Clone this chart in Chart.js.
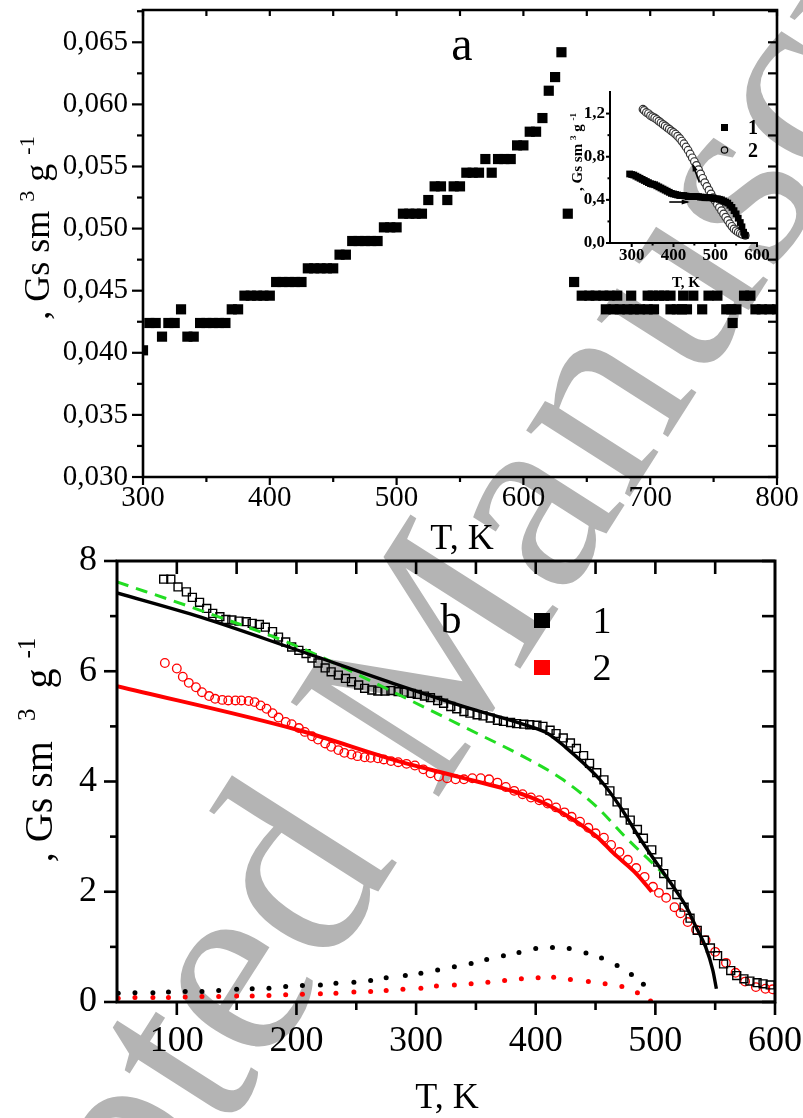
<!DOCTYPE html>
<html>
<head>
<meta charset="utf-8">
<script src="https://cdn.jsdelivr.net/npm/chart.js@4.4.1/dist/chart.umd.min.js"></script>
<style>
html, body { margin: 0; padding: 0; background: #fff; }
#page { position: relative; width: 803px; height: 1118px; overflow: hidden; }
#wm { position: absolute; left: 0; top: 0; }
.box { position: absolute; }
</style>
</head>
<body>
<div id="page">
<svg id="wm" width="803" height="1118">
  <text x="-145" y="1713" transform="rotate(-57.5 -145 1713)" font-family="Liberation Serif" font-size="268" fill="#b4b4b4">Accepted Manuscript</text>
</svg>
<div class="box" style="left:0;top:0;width:803px;height:560px"><canvas id="chartA"></canvas></div>
<div class="box" style="left:0;top:540px;width:803px;height:578px"><canvas id="chartB"></canvas></div>
<div class="box" style="left:540px;top:70px;width:250px;height:230px"><canvas id="chartInset"></canvas></div>
</div>
<script>
const SERIF = '"Liberation Serif", "Times New Roman", serif';

// (a) main panel: T, K and magnetisation
const tempA = [300, 305, 310, 315, 320, 325, 330, 335, 340, 345, 350, 355, 360, 365, 370, 375,
  380, 385, 390, 395, 400, 405, 410, 415, 420, 425, 430, 435, 440, 445, 450, 455, 460,
  465, 470, 475, 480, 485, 490, 495, 500, 505, 510, 515, 520, 525, 530, 535, 540, 545, 550,
  555, 560, 565, 570, 575, 580, 585, 590, 595, 600, 605, 610, 615, 620, 625, 630, 635, 640,
  646, 652, 657, 663, 668, 674, 685, 698, 702, 707, 711, 716, 726, 734, 746, 753, 774, 779,
  665, 671, 676, 682, 687, 692, 698, 703, 716, 721, 725, 729, 741, 760, 764, 768, 783, 788, 794, 800,
  765];
const magA = [0.0402, 0.0424, 0.0424, 0.0413, 0.0424, 0.0424, 0.0435, 0.0413, 0.0413, 0.0424, 0.0424, 0.0424, 0.0424, 0.0424, 0.0435, 0.0435,
  0.0446, 0.0446, 0.0446, 0.0446, 0.0446, 0.0457, 0.0457, 0.0457, 0.0457, 0.0457, 0.0468, 0.0468, 0.0468, 0.0468, 0.0468, 0.0479, 0.0479,
  0.0490, 0.0490, 0.0490, 0.0490, 0.0490, 0.0501, 0.0501, 0.0501, 0.0512, 0.0512, 0.0512, 0.0512, 0.0523, 0.0534, 0.0534, 0.0523, 0.0534, 0.0534,
  0.0545, 0.0545, 0.0545, 0.0556, 0.0545, 0.0556, 0.0556, 0.0556, 0.0567, 0.0567, 0.0578, 0.0578, 0.0589, 0.0611, 0.0622, 0.0642, 0.0512, 0.0457,
  0.0446, 0.0446, 0.0446, 0.0446, 0.0446, 0.0446, 0.0446, 0.0446, 0.0446, 0.0446, 0.0446, 0.0446, 0.0446, 0.0446, 0.0446, 0.0446, 0.0446, 0.0446,
  0.0435, 0.0435, 0.0435, 0.0435, 0.0435, 0.0435, 0.0435, 0.0435, 0.0435, 0.0435, 0.0435, 0.0435, 0.0435, 0.0435, 0.0435, 0.0435, 0.0435, 0.0435, 0.0435, 0.0435,
  0.0424];
const ticksXA = [300, 400, 500, 600, 700, 800];
const ticksYA = [0.030, 0.035, 0.040, 0.045, 0.050, 0.055, 0.060, 0.065];

// inset: 1 heating, 2 cooling
const heatT = [295, 300, 305, 310, 315, 320, 325, 330, 335, 340, 345, 350, 355, 360, 365, 370, 375, 380, 385, 390,
  395, 400, 405, 410, 415, 420, 425, 430, 435, 440, 445, 450, 455, 460, 465, 470, 475, 480, 485, 490,
  495, 500, 505, 510, 515, 520, 525, 530, 535, 540, 545, 550, 555, 560, 564, 568, 572];
const heatV = [0.64, 0.635, 0.63, 0.62, 0.61, 0.60, 0.59, 0.58, 0.57, 0.56, 0.55, 0.545, 0.54, 0.53, 0.52, 0.51, 0.50, 0.49, 0.48, 0.47,
  0.46, 0.455, 0.45, 0.445, 0.44, 0.44, 0.44, 0.435, 0.43, 0.43, 0.43, 0.43, 0.43, 0.43, 0.425, 0.425, 0.42, 0.42, 0.42, 0.42,
  0.415, 0.41, 0.41, 0.405, 0.40, 0.39, 0.38, 0.37, 0.35, 0.33, 0.30, 0.27, 0.23, 0.19, 0.15, 0.10, 0.07];
const coolT = [327, 330, 335, 340, 345, 350, 355, 360, 365, 370, 375, 380, 385, 390, 395, 400, 405, 410, 415, 420,
  425, 430, 435, 440, 445, 450, 455, 460, 465, 470, 475, 480, 485, 490, 495, 500, 505, 510, 515, 520,
  525, 530, 535, 540, 545, 550, 555, 560, 565, 572];
const coolV = [1.24, 1.23, 1.21, 1.20, 1.18, 1.17, 1.16, 1.145, 1.13, 1.115, 1.10, 1.085, 1.07, 1.055, 1.04, 1.025, 1.01, 0.99, 0.97, 0.945,
  0.92, 0.89, 0.86, 0.825, 0.79, 0.755, 0.72, 0.68, 0.64, 0.60, 0.56, 0.525, 0.49, 0.455, 0.42, 0.39, 0.36, 0.33, 0.30, 0.27,
  0.24, 0.21, 0.18, 0.155, 0.13, 0.115, 0.10, 0.09, 0.08, 0.07];
const ticksXI = [300, 400, 500, 600];
const ticksYI = [0, 0.4, 0.8, 1.2];

// (b) sample 1 (squares) and sample 2 (circles)
const t1 = [89, 95, 101, 108, 113, 119, 125, 130, 136, 141, 146, 152, 158, 163, 169, 174, 180, 185, 191, 196,
  202, 208, 213, 218, 224, 229, 235, 241, 246, 252, 257, 263, 268, 274, 279, 285, 290, 296, 301, 307,
  312, 318, 323, 329, 334, 340, 345, 351, 356, 362, 368, 373, 379, 384, 390, 395, 401, 406, 412, 417,
  423, 429, 434, 440, 445, 451, 457, 462, 468, 474, 479, 485, 490, 497, 502, 507, 513, 518, 524, 529,
  535, 541, 546, 552, 557, 563, 568, 574, 579, 585, 590, 596];
const m1 = [7.67, 7.67, 7.53, 7.44, 7.34, 7.25, 7.14, 7.05, 6.99, 6.94, 6.93, 6.91, 6.90, 6.87, 6.85, 6.80, 6.72, 6.62, 6.53, 6.44,
  6.38, 6.32, 6.24, 6.15, 6.06, 5.99, 5.93, 5.87, 5.81, 5.75, 5.69, 5.66, 5.64, 5.64, 5.65, 5.63, 5.62, 5.60, 5.58, 5.55,
  5.52, 5.47, 5.42, 5.36, 5.32, 5.27, 5.24, 5.21, 5.19, 5.15, 5.11, 5.09, 5.07, 5.05, 5.04, 5.03, 5.02, 5.00, 4.93, 4.87,
  4.79, 4.70, 4.60, 4.47, 4.33, 4.16, 4.03, 3.83, 3.63, 3.43, 3.30, 3.13, 2.97, 2.76, 2.54, 2.33, 2.13, 1.95, 1.72, 1.52,
  1.30, 1.12, 0.98, 0.84, 0.69, 0.57, 0.48, 0.42, 0.38, 0.35, 0.33, 0.31];
const t2 = [90, 100, 105, 110, 116, 121, 127, 132, 138, 143, 149, 154, 160, 165, 170, 175, 180, 185, 191, 196,
  202, 207, 213, 218, 224, 229, 235, 240, 246, 251, 257, 262, 268, 273, 279, 285, 292, 299, 306, 312,
  319, 326, 333, 340, 347, 354, 361, 368, 375, 382, 389, 396, 403, 410, 417, 424, 430, 437, 444, 450,
  457, 463, 470, 477, 484, 491, 498, 503, 509, 516, 521, 527, 534, 542, 550, 559, 567, 575, 584, 592, 598];
const m2 = [6.15, 6.05, 5.90, 5.79, 5.71, 5.62, 5.55, 5.50, 5.48, 5.47, 5.47, 5.47, 5.46, 5.44, 5.38, 5.32, 5.24, 5.16, 5.08, 5.04,
  4.97, 4.90, 4.82, 4.76, 4.69, 4.63, 4.57, 4.52, 4.49, 4.46, 4.44, 4.43, 4.42, 4.40, 4.37, 4.35, 4.32, 4.29, 4.22, 4.15,
  4.09, 4.06, 4.04, 4.04, 4.06, 4.06, 4.04, 3.98, 3.90, 3.83, 3.77, 3.71, 3.66, 3.60, 3.53, 3.44, 3.36, 3.27, 3.16, 3.06,
  2.98, 2.85, 2.72, 2.58, 2.43, 2.27, 2.09, 1.98, 1.89, 1.72, 1.61, 1.45, 1.31, 1.12, 0.91, 0.71, 0.53, 0.37, 0.27, 0.24, 0.23];

// (b) fitted curves
const fit1T = [50, 120, 200, 285, 340, 395, 410, 425, 440, 455, 470, 487, 501, 515, 526, 534, 542, 548, 551];
const fit1V = [7.42, 6.98, 6.39, 5.75, 5.36, 5.00, 4.87, 4.62, 4.33, 4.00, 3.56, 2.97, 2.52, 2.09, 1.72, 1.36, 1.00, 0.58, 0.24];
const fit2T = [50, 202, 285, 340, 395, 423, 451, 465, 484, 497];
const fit2V = [5.73, 4.93, 4.37, 4.06, 3.72, 3.42, 3.00, 2.70, 2.33, 2.00];
const fitGT = [50, 119, 202, 285, 340, 395, 423, 451, 476, 506, 512];
const fitGV = [7.62, 7.11, 6.44, 5.58, 4.99, 4.39, 4.03, 3.54, 2.97, 2.34, 2.20];

// (b) dotted difference curves
const dot1T = [51, 65, 80, 93, 107, 121, 135, 150, 163, 177, 191, 205, 220, 233, 248, 262, 275, 291, 304,
  318, 332, 346, 359, 373, 386, 400, 414, 428, 442, 455, 468, 480, 490];
const dot1V = [0.16, 0.17, 0.17, 0.18, 0.19, 0.19, 0.21, 0.23, 0.24, 0.25, 0.28, 0.30, 0.31, 0.34, 0.36, 0.39, 0.44, 0.48, 0.52,
  0.58, 0.64, 0.70, 0.77, 0.84, 0.90, 0.97, 0.99, 0.97, 0.89, 0.80, 0.66, 0.50, 0.32];
const dot2T = [51, 65, 80, 93, 107, 121, 135, 150, 163, 177, 191, 205, 220, 233, 248, 262, 275, 289, 304,
  317, 332, 346, 360, 374, 388, 402, 415, 429, 444, 458, 472, 485, 496];
const dot2V = [0.07, 0.08, 0.08, 0.08, 0.09, 0.10, 0.10, 0.11, 0.11, 0.12, 0.13, 0.14, 0.15, 0.16, 0.18, 0.19, 0.21, 0.23, 0.25,
  0.29, 0.31, 0.33, 0.36, 0.39, 0.42, 0.44, 0.45, 0.41, 0.37, 0.33, 0.28, 0.17, 0.02];
const ticksXB = [100, 200, 300, 400, 500, 600];
const ticksYB = [0, 2, 4, 6, 8];

function pts(xs, ys) {
  return xs.map((x, i) => ({ x: x, y: ys[i] }));
}

function range(a, b, step) {
  const out = [];
  for (let v = a; v <= b + 1e-9; v += step) out.push(+v.toFixed(6));
  return out;
}

// keep the plot area exactly where layout.padding puts it
function pin(size) {
  return s => {
    if (s.isHorizontal()) s.height = size; else s.width = size;
    s.paddingLeft = 0; s.paddingRight = 0; s.paddingTop = 0; s.paddingBottom = 0;
  };
}

// text with superscripts
function drawRich(ctx, parts, x, y, rot, size, weight) {
  ctx.save();
  ctx.translate(x, y);
  ctx.rotate(rot);
  ctx.fillStyle = '#000';
  ctx.textBaseline = 'alphabetic';
  const fontOf = p => weight + ' ' + (p.sup ? Math.round(size * 0.62) : size) + 'px ' + SERIF;
  const widths = parts.map(p => { ctx.font = fontOf(p); return ctx.measureText(p.t).width; });
  let cx = -widths.reduce((a, b) => a + b, 0) / 2;
  parts.forEach((p, i) => {
    ctx.font = fontOf(p);
    ctx.fillText(p.t, cx, p.sup ? -size * 0.42 : 0);
    cx += widths[i];
  });
  ctx.restore();
}

// axis frame, ticks and free texts
const framePlugin = {
  id: 'frame',
  afterDraw(chart, args, o) {
    const { ctx, chartArea: a, scales } = chart;
    const x = scales.x, y = scales.y;
    ctx.save();
    ctx.strokeStyle = '#000';
    ctx.lineWidth = o.lw;
    ctx.lineCap = 'square';
    ctx.beginPath();
    if (o.box) {
      ctx.rect(a.left, a.top, a.right - a.left, a.bottom - a.top);
    } else {
      ctx.moveTo(a.left, a.top);
      ctx.lineTo(a.left, a.bottom);
      ctx.lineTo(a.right, a.bottom);
    }
    ctx.stroke();
    ctx.lineCap = 'butt';
    ctx.lineWidth = o.tickW || o.lw;
    o.ticks.forEach(t => {
      t.values.forEach(v => {
        ctx.beginPath();
        if (t.side === 'bottom' || t.side === 'top') {
          const px = x.getPixelForValue(v);
          const y0 = t.side === 'bottom' ? a.bottom : a.top;
          const y1 = t.side === 'bottom' ? a.bottom + t.len : a.top - t.len;
          ctx.moveTo(px, y0); ctx.lineTo(px, y1);
        } else {
          const py = y.getPixelForValue(v);
          const x0 = t.side === 'left' ? a.left : a.right;
          const x1 = t.side === 'left' ? a.left - t.len : a.right + t.len;
          ctx.moveTo(x0, py); ctx.lineTo(x1, py);
        }
        ctx.stroke();
      });
    });
    (o.texts || []).forEach(t => {
      drawRich(ctx, t.parts, t.x, t.y, t.rot || 0, t.size, t.weight || 'normal');
    });
    if (o.extra) o.extra(chart);
    ctx.restore();
  }
};

const titleParts = [{ t: ', Gs sm ' }, { t: '3', sup: true }, { t: ' g ' }, { t: '-1', sup: true }];
const titlePartsB = [{ t: ', Gs sm  ' }, { t: '3', sup: true }, { t: '  g ' }, { t: '-1', sup: true }];
const baseOpts = {
  responsive: true,
  maintainAspectRatio: false,
  animation: false,
  events: []
};

// ---------- panel (a) ----------
new Chart(document.getElementById('chartA'), {
  type: 'scatter',
  data: {
    datasets: [{
      data: pts(tempA, magA),
      pointStyle: 'rect',
      pointRadius: 7.2,
      pointBorderWidth: 0,
      backgroundColor: '#000',
      borderColor: '#000'
    }]
  },
  options: Object.assign({}, baseOpts, {
    layout: { padding: { top: 10, right: 26, left: 0, bottom: 0 } },
    plugins: {
      legend: { display: false },
      tooltip: { enabled: false },
      frame: {
        lw: 2.6, tickW: 2.2, box: true,
        ticks: [
          { side: 'left', values: ticksYA, len: 11 },
          { side: 'left', values: range(0.0325, 0.0675, 0.005), len: 6 },
          { side: 'right', values: range(0.030, 0.0675, 0.0025), len: -9 },
          { side: 'bottom', values: ticksXA, len: 8 },
          { side: 'bottom', values: range(350, 750, 100), len: 5 },
          { side: 'top', values: range(300, 800, 50), len: -6 }
        ],
        texts: [
          { parts: [{ t: 'a' }], x: 462, y: 60, size: 48 },
          { parts: [{ t: 'T, K' }], x: 462, y: 549, size: 36 },
          { parts: titleParts, x: 49, y: 228, rot: -Math.PI / 2, size: 36 }
        ]
      }
    },
    scales: {
      x: {
        type: 'linear', min: 300, max: 800,
        afterBuildTicks: s => { s.ticks = ticksXA.map(v => ({ value: v })); },
        afterFit: pin(83),
        ticks: { font: { family: SERIF, size: 29 }, color: '#000', padding: 4, maxRotation: 0 },
        grid: { display: false, drawTicks: false },
        border: { display: false }
      },
      y: {
        type: 'linear', min: 0.030, max: 0.0676,
        afterBuildTicks: s => { s.ticks = ticksYA.map(v => ({ value: v })); },
        afterFit: pin(143),
        ticks: {
          font: { family: SERIF, size: 29 }, color: '#000', padding: 15,
          callback: v => v.toFixed(3).replace('.', ',')
        },
        grid: { display: false, drawTicks: false },
        border: { display: false }
      }
    }
  }),
  plugins: [framePlugin]
});

// ---------- inset ----------
function arrow(ctx, xs, ys, x0, y0, x1, y1) {
  const p0x = xs.getPixelForValue(x0), p0y = ys.getPixelForValue(y0);
  const p1x = xs.getPixelForValue(x1), p1y = ys.getPixelForValue(y1);
  const ang = Math.atan2(p1y - p0y, p1x - p0x);
  ctx.strokeStyle = '#000';
  ctx.fillStyle = '#000';
  ctx.lineWidth = 1.6;
  ctx.beginPath();
  ctx.moveTo(p0x, p0y);
  ctx.lineTo(p1x, p1y);
  ctx.stroke();
  ctx.beginPath();
  ctx.moveTo(p1x + 2 * Math.cos(ang), p1y + 2 * Math.sin(ang));
  ctx.lineTo(p1x - 6 * Math.cos(ang) + 2.6 * Math.sin(ang), p1y - 6 * Math.sin(ang) - 2.6 * Math.cos(ang));
  ctx.lineTo(p1x - 6 * Math.cos(ang) - 2.6 * Math.sin(ang), p1y - 6 * Math.sin(ang) + 2.6 * Math.cos(ang));
  ctx.closePath();
  ctx.fill();
}

new Chart(document.getElementById('chartInset'), {
  type: 'scatter',
  data: {
    datasets: [
      {
        data: pts(heatT, heatV),
        pointStyle: 'rect', pointRadius: 4.8, pointBorderWidth: 0,
        backgroundColor: '#000', borderColor: '#000'
      },
      {
        data: pts(coolT, coolV),
        pointStyle: 'circle', pointRadius: 3.8, pointBorderWidth: 1.2,
        backgroundColor: '#fff', borderColor: '#333'
      }
    ]
  },
  options: Object.assign({}, baseOpts, {
    layout: { padding: { top: 22, right: 33, left: 0, bottom: 0 } },
    plugins: {
      legend: { display: false },
      tooltip: { enabled: false },
      frame: {
        lw: 2, box: false,
        ticks: [
          { side: 'left', values: ticksYI, len: 4 },
          { side: 'left', values: [0.2, 0.6, 1.0], len: 2.5 },
          { side: 'bottom', values: ticksXI, len: 4 },
          { side: 'bottom', values: [350, 450, 550], len: 2.5 }
        ],
        texts: [
          { parts: [{ t: 'T, K' }], x: 146, y: 217, size: 15, weight: 'bold' },
          { parts: titleParts, x: 42, y: 82, rot: -Math.PI / 2, size: 15, weight: 'bold' },
          { parts: [{ t: '1' }], x: 213, y: 64, size: 20, weight: 'bold' },
          { parts: [{ t: '2' }], x: 213, y: 87, size: 20, weight: 'bold' }
        ],
        extra: chart => {
          const ctx = chart.ctx;
          ctx.fillStyle = '#000';
          ctx.fillRect(181, 54, 7, 7);
          ctx.beginPath();
          ctx.strokeStyle = '#000';
          ctx.lineWidth = 1.2;
          ctx.arc(184.5, 80, 3.2, 0, Math.PI * 2);
          ctx.stroke();
          arrow(ctx, chart.scales.x, chart.scales.y, 390, 0.38, 434, 0.38);
          arrow(ctx, chart.scales.x, chart.scales.y, 462, 0.56, 447, 0.72);
        }
      }
    },
    scales: {
      x: {
        type: 'linear', min: 248, max: 600,
        afterBuildTicks: s => { s.ticks = ticksXI.map(v => ({ value: v })); },
        afterFit: pin(57),
        ticks: { font: { family: SERIF, size: 17, weight: 'bold' }, color: '#000', padding: 2, maxRotation: 0 },
        grid: { display: false, drawTicks: false },
        border: { display: false }
      },
      y: {
        type: 'linear', min: 0, max: 1.4,
        afterBuildTicks: s => { s.ticks = ticksYI.map(v => ({ value: v })); },
        afterFit: pin(70),
        ticks: {
          font: { family: SERIF, size: 17, weight: 'bold' }, color: '#000', padding: 5,
          callback: v => v.toFixed(1).replace('.', ',')
        },
        grid: { display: false, drawTicks: false },
        border: { display: false }
      }
    }
  }),
  plugins: [framePlugin]
});

// ---------- panel (b) ----------
const RED = '#ff0000';
const GREEN = '#22dd22';
new Chart(document.getElementById('chartB'), {
  type: 'scatter',
  data: {
    datasets: [
      {
        label: '1', data: pts(t1, m1), order: 3,
        pointStyle: 'rect', pointRadius: 5.6, pointBorderWidth: 1.4,
        backgroundColor: 'rgba(0,0,0,0)', borderColor: '#000'
      },
      {
        label: '2', data: pts(t2, m2), order: 4,
        pointStyle: 'circle', pointRadius: 4.3, pointBorderWidth: 1.3,
        backgroundColor: 'rgba(0,0,0,0)', borderColor: RED
      },
      {
        data: pts(fit1T, fit1V), order: 1, showLine: true, pointRadius: 0,
        borderColor: '#000', borderWidth: 3.4, cubicInterpolationMode: 'monotone'
      },
      {
        data: pts(fit2T, fit2V), order: 2, showLine: true, pointRadius: 0,
        borderColor: RED, borderWidth: 4, cubicInterpolationMode: 'monotone'
      },
      {
        data: pts(fitGT, fitGV), order: 2, showLine: true, pointRadius: 0,
        borderColor: GREEN, borderWidth: 3, borderDash: [12, 8], cubicInterpolationMode: 'monotone'
      },
      {
        data: pts(dot1T, dot1V), order: 5,
        pointStyle: 'circle', pointRadius: 2.5, pointBorderWidth: 0,
        backgroundColor: '#000', borderColor: '#000'
      },
      {
        data: pts(dot2T, dot2V), order: 5,
        pointStyle: 'circle', pointRadius: 2.5, pointBorderWidth: 0,
        backgroundColor: RED, borderColor: RED
      }
    ]
  },
  options: Object.assign({}, baseOpts, {
    layout: { padding: { top: 21, right: 28, left: 0, bottom: 0 } },
    plugins: {
      legend: { display: false },
      tooltip: { enabled: false },
      frame: {
        lw: 3, tickW: 2.6, box: true,
        ticks: [
          { side: 'left', values: ticksYB, len: 13 },
          { side: 'left', values: [1, 3, 5, 7], len: 7 },
          { side: 'right', values: range(0, 8, 1), len: -13 },
          { side: 'bottom', values: ticksXB, len: 13 },
          { side: 'bottom', values: range(150, 550, 100), len: 8 },
          { side: 'top', values: range(100, 550, 50), len: -13 }
        ],
        texts: [
          { parts: [{ t: 'b' }], x: 451, y: 93, size: 42 },
          { parts: [{ t: '1' }], x: 602, y: 93, size: 38 },
          { parts: [{ t: '2' }], x: 602, y: 140, size: 38 },
          { parts: [{ t: 'T, K' }], x: 447, y: 568, size: 36 },
          { parts: titlePartsB, x: 52, y: 210, rot: -Math.PI / 2, size: 40 }
        ],
        extra: chart => {
          const ctx = chart.ctx;
          ctx.fillStyle = '#000';
          ctx.fillRect(534, 73, 16, 15);
          ctx.fillStyle = RED;
          ctx.fillRect(534, 120, 16, 15);
        }
      }
    },
    scales: {
      x: {
        type: 'linear', min: 50, max: 600,
        afterBuildTicks: s => { s.ticks = ticksXB.map(v => ({ value: v })); },
        afterFit: pin(116),
        ticks: { font: { family: SERIF, size: 36 }, color: '#000', padding: 18, maxRotation: 0 },
        grid: { display: false, drawTicks: false },
        border: { display: false }
      },
      y: {
        type: 'linear', min: 0, max: 8,
        afterBuildTicks: s => { s.ticks = ticksYB.map(v => ({ value: v })); },
        afterFit: pin(117),
        ticks: { font: { family: SERIF, size: 36 }, color: '#000', padding: 20 },
        grid: { display: false, drawTicks: false },
        border: { display: false }
      }
    }
  }),
  plugins: [framePlugin]
});
</script>
</body>
</html>
